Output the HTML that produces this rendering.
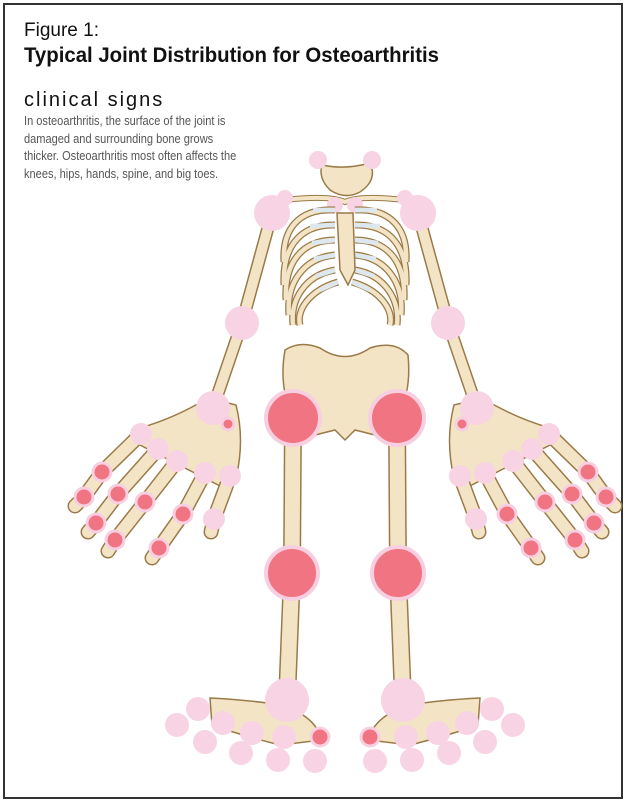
<!DOCTYPE html>
<html><head><meta charset="utf-8"><style>
html,body{margin:0;padding:0;background:#fff;}
body{width:625px;height:801px;position:relative;overflow:hidden;font-family:"Liberation Sans",sans-serif;}
.frame{position:absolute;left:3px;top:3px;width:616px;height:792px;border:2px solid #333;}
.t{position:absolute;left:24px;white-space:nowrap;color:#111;}
</style></head><body>
<div class="frame"></div>
<div class="t" style="top:20px;font-size:19px;">Figure 1:</div>
<div class="t" style="top:44px;font-size:21px;font-weight:bold;transform:scaleX(0.97);transform-origin:left;">Typical Joint Distribution for Osteoarthritis</div>
<div class="t" style="top:89px;font-size:20px;letter-spacing:2px;">clinical signs</div>
<div class="t" style="top:112px;font-size:13px;line-height:17.5px;color:#555;transform:scaleX(0.85);transform-origin:left;">In osteoarthritis, the surface of the joint is<br>damaged and surrounding bone grows<br>thicker. Osteoarthritis most often affects the<br>knees, hips, hands, spine, and big toes.</div>
<svg width="625" height="801" style="position:absolute;left:0;top:0">
<defs>
<g id="arm">
 <path d="M272,213 L242,323 L213,408" fill="none" stroke="#9a7a48" stroke-width="13" stroke-linecap="round"/>
 <path d="M272,213 L242,323 L213,408" fill="none" stroke="#f3e4c6" stroke-width="10" stroke-linecap="round"/>
 <path d="M140,428 Q175,418 208,398 L236,405 Q245,440 236,478 L228,490 L140,445 Z" fill="#f3e4c6" stroke="#9a7a48" stroke-width="1.5"/>
 <g fill="none" stroke-linecap="round">
  <path d="M141,434 L102,472 L84,497 L75,506 M158,449 L118,494 L96,523 L88,532 M177,461 L145,502 L115,540 L108,551 M205,473 L183,514 L159,548 L152,558 M230,476 L214,519 L211,532" stroke="#9a7a48" stroke-width="15"/>
  <path d="M141,434 L102,472 L84,497 L75,506 M158,449 L118,494 L96,523 L88,532 M177,461 L145,502 L115,540 L108,551 M205,473 L183,514 L159,548 L152,558 M230,476 L214,519 L211,532" stroke="#f3e4c6" stroke-width="12"/>
 </g>
 <path d="M293,418 L292,573 L287,700" fill="none" stroke="#9a7a48" stroke-width="18" stroke-linecap="round"/>
 <path d="M293,418 L292,573 L287,700" fill="none" stroke="#f3e4c6" stroke-width="15" stroke-linecap="round"/>
 <path d="M210,698 Q250,700 280,705 Q315,715 322,740 L280,745 Q240,735 212,725 Z" fill="#f3e4c6" stroke="#9a7a48" stroke-width="1.5"/>
 <g fill="#f8d3e3">
  <circle cx="272" cy="213" r="18"/><circle cx="285" cy="198" r="8"/><circle cx="335" cy="205" r="8"/>
  <circle cx="242" cy="323" r="17"/><circle cx="213" cy="408" r="17"/>
  <circle cx="141" cy="434" r="11"/><circle cx="158" cy="449" r="11"/><circle cx="177" cy="461" r="11"/><circle cx="205" cy="473" r="11"/><circle cx="230" cy="476" r="11"/><circle cx="214" cy="519" r="11"/>
  <circle cx="287" cy="700" r="22"/>
  <circle cx="177" cy="725" r="12"/><circle cx="198" cy="709" r="12"/><circle cx="223" cy="723" r="12"/><circle cx="205" cy="742" r="12"/><circle cx="252" cy="733" r="12"/><circle cx="241" cy="753" r="12"/><circle cx="284" cy="737" r="12"/><circle cx="278" cy="760" r="12"/><circle cx="315" cy="761" r="12"/>
 </g>
 <g fill="#f07482" stroke="#f8cfe0" stroke-width="3">
  <circle cx="228" cy="424" r="6"/>
  <circle cx="102" cy="472" r="9"/><circle cx="84" cy="497" r="9"/><circle cx="118" cy="494" r="9"/><circle cx="96" cy="523" r="9"/><circle cx="145" cy="502" r="9"/><circle cx="183" cy="514" r="9"/><circle cx="115" cy="540" r="9"/><circle cx="159" cy="548" r="9"/>
  <circle cx="320" cy="737" r="9"/>
  <circle cx="292" cy="573" r="26" stroke-width="4"/>
  <circle cx="293" cy="418" r="27" stroke-width="4"/>
 </g>
 <g fill="none">
  <g stroke="#9a7a48" stroke-width="7">
   <path d="M335,210 C298,208 282,230 284,262"/>
   <path d="M335,225 C298,224 282,250 284,285"/>
   <path d="M335,240 C300,240 284,265 286,300"/>
   <path d="M335,255 C302,258 286,285 289,315"/>
   <path d="M335,270 C305,275 290,300 293,325"/>
   <path d="M338,282 C310,290 296,310 300,325"/>
  </g>
  <g stroke="#f3e4c6" stroke-width="4.5">
   <path d="M335,210 C298,208 282,230 284,262"/>
   <path d="M335,225 C298,224 282,250 284,285"/>
   <path d="M335,240 C300,240 284,265 286,300"/>
   <path d="M335,255 C302,258 286,285 289,315"/>
   <path d="M335,270 C305,275 290,300 293,325"/>
   <path d="M338,282 C310,290 296,310 300,325"/>
  </g>
  <g stroke="#dde8ee" stroke-width="4.5">
   <path d="M335,210 L313,210 M335,225 L310,226 M335,240 L312,243 M335,255 L314,259 M335,270 L316,276 M338,282 L320,290"/>
  </g>
 </g>
</g>
</defs>
<path d="M322,165 Q345,170 370,163 Q378,180 360,192 Q345,200 330,190 Q318,178 322,165 Z" fill="#f3e4c6" stroke="#9a7a48" stroke-width="1.5"/>
<path d="M285,350 Q300,340 320,348 Q345,365 370,348 Q395,340 408,355 Q412,395 395,420 L375,435 L355,430 L345,440 L335,430 L315,435 L295,420 Q278,390 285,350 Z" fill="#f3e4c6" stroke="#9a7a48" stroke-width="1.5"/>
<path d="M285,200 Q330,195 345,202 Q360,195 405,200" fill="none" stroke="#9a7a48" stroke-width="6"/>
<path d="M285,200 Q330,195 345,202 Q360,195 405,200" fill="none" stroke="#f3e4c6" stroke-width="4"/>
<use href="#arm"/>
<use href="#arm" transform="translate(690,0) scale(-1,1)"/>
<path d="M337,213 L353,213 L355,270 L348,285 L340,270 Z" fill="#f3e4c6" stroke="#9a7a48" stroke-width="1.5"/>
<g fill="#f8d3e3"><circle cx="318" cy="160" r="9"/><circle cx="372" cy="160" r="9"/></g>
</svg>
</body></html>
